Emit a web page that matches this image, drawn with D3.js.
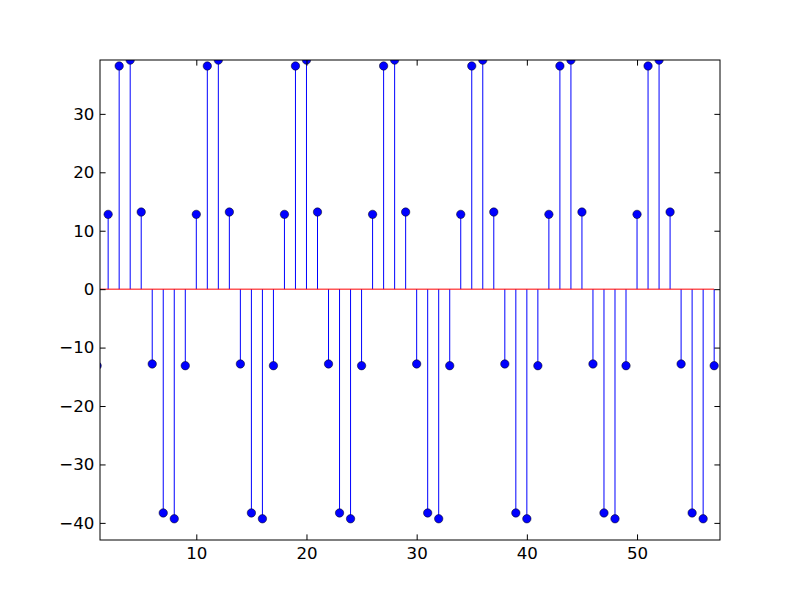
<!DOCTYPE html>
<html>
<head>
<meta charset="utf-8">
<script src="https://cdn.jsdelivr.net/npm/d3@7"></script>
<style>
  body { margin: 0; background: #fff; }
  svg { display: block; }
  text { font-family: "DejaVu Sans", sans-serif; font-size: 16.67px; fill: #000; }
</style>
</head>
<body>
<svg id="chart" width="800" height="600"></svg>
<script>
// stem samples (n = 1..57)
var xs = d3.range(1, 58)
var ys = [
  -13.1, 12.8, 38.2, 39.2, 13.2, -12.8, -38.3, -39.3,
  -13.1, 12.8, 38.2, 39.2, 13.2, -12.8, -38.3, -39.3,
  -13.1, 12.8, 38.2, 39.2, 13.2, -12.8, -38.3, -39.3,
  -13.1, 12.8, 38.2, 39.2, 13.2, -12.8, -38.3, -39.3,
  -13.1, 12.8, 38.2, 39.2, 13.2, -12.8, -38.3, -39.3,
  -13.1, 12.8, 38.2, 39.2, 13.2, -12.8, -38.3, -39.3,
  -13.1, 12.8, 38.2, 39.2, 13.2, -12.8, -38.3, -39.3,
  -13.1
]
var xTicks = [10, 20, 30, 40, 50]
var yTicks = [-40, -30, -20, -10, 0, 10, 20, 30]

// plot box (window.top is read-only, so no "top" here)
var mLeft = 100, mRight = 720, mTop = 60, mBottom = 540
var tick = 5.6

var svg = d3.select('#chart')

var x = d3.scaleLinear().domain([1.26, 57.53]).range([mLeft, mRight])
var y = d3.scaleLinear().domain([-42.93, 39.22]).range([mBottom, mTop])

svg.append('defs').append('clipPath').attr('id', 'plot')
  .append('rect')
    .attr('x', mLeft).attr('y', mTop)
    .attr('width', mRight - mLeft).attr('height', mBottom - mTop)

var fmt = d => d < 0 ? '\u2212' + Math.abs(d) : String(d)

var plot = svg.append('g').attr('clip-path', 'url(#plot)')

// stems
plot.append('g')
  .selectAll('line')
  .data(xs)
  .join('line')
    .attr('x1', d => x(d)).attr('x2', d => x(d))
    .attr('y1', y(0))
    .attr('y2', (d, i) => y(ys[i]))
    .attr('stroke', '#0000ff')
    .attr('stroke-width', 1)

// baseline
plot.append('line')
  .attr('x1', x(xs[0])).attr('x2', x(xs[xs.length - 1]))
  .attr('y1', y(0)).attr('y2', y(0))
  .attr('stroke', '#ff0000')
  .attr('stroke-width', 1)

// markers
plot.append('g')
  .selectAll('circle')
  .data(xs)
  .join('circle')
    .attr('cx', d => x(d))
    .attr('cy', (d, i) => y(ys[i]))
    .attr('r', 4.2)
    .attr('fill', '#0000ff')
    .attr('stroke', '#000')
    .attr('stroke-width', 0.5)

// axes, ticks inward like classic matplotlib
svg.append('g')
  .attr('transform', `translate(0,${mBottom})`)
  .call(d3.axisBottom(x).tickValues(xTicks).tickSize(-tick).tickPadding(7).tickFormat(fmt))
  .call(g => g.select('.domain').remove())

svg.append('g')
  .attr('transform', `translate(0,${mTop})`)
  .call(d3.axisTop(x).tickValues(xTicks).tickSize(-tick).tickFormat(''))
  .call(g => g.select('.domain').remove())

svg.append('g')
  .attr('transform', `translate(${mLeft},0)`)
  .call(d3.axisLeft(y).tickValues(yTicks).tickSize(-tick).tickPadding(5.6).tickFormat(fmt))
  .call(g => g.select('.domain').remove())

svg.append('g')
  .attr('transform', `translate(${mRight},0)`)
  .call(d3.axisRight(y).tickValues(yTicks).tickSize(-tick).tickFormat(''))
  .call(g => g.select('.domain').remove())

svg.append('rect')
  .attr('x', mLeft).attr('y', mTop)
  .attr('width', mRight - mLeft).attr('height', mBottom - mTop)
  .attr('fill', 'none')
  .attr('stroke', '#000')
  .attr('stroke-width', 1)
</script>
</body>
</html>
